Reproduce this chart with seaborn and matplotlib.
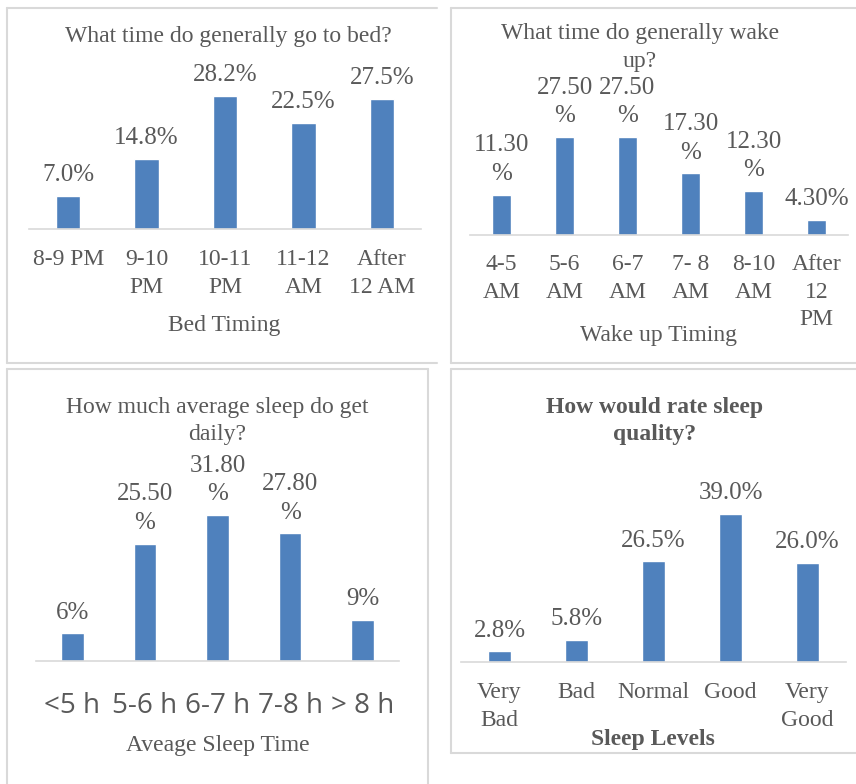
import matplotlib
matplotlib.use("Agg")
import matplotlib.pyplot as plt
import seaborn as sns
from matplotlib.lines import Line2D

# chart data
bed_cats = ["8-9 PM", "9-10 PM", "10-11 PM", "11-12 AM", "After 12 AM"]
bed_ticks = ["8-9 PM", "9-10\nPM", "10-11\nPM", "11-12\nAM", "After\n12 AM"]
bed_vals = [7.0, 14.8, 28.2, 22.5, 27.5]
bed_labels = ["7.0%", "14.8%", "28.2%", "22.5%", "27.5%"]

wake_cats = ["4-5 AM", "5-6 AM", "6-7 AM", "7- 8 AM", "8-10 AM", "After 12 PM"]
wake_ticks = ["4-5\nAM", "5-6\nAM", "6-7\nAM", "7- 8\nAM", "8-10\nAM", "After\n12\nPM"]
wake_vals = [11.3, 27.5, 27.5, 17.3, 12.3, 4.3]
wake_labels = ["11.30\n%", "27.50\n%", "27.50\n%", "17.30\n%", "12.30\n%", "4.30%"]

sleep_cats = ["<5 h", "5-6 h", "6-7 h", "7-8 h", "> 8 h"]
sleep_vals = [6.0, 25.5, 31.8, 27.8, 9.0]
sleep_labels = ["6%", "25.50\n%", "31.80\n%", "27.80\n%", "9%"]

qual_cats = ["Very Bad", "Bad", "Normal", "Good", "Very Good"]
qual_ticks = ["Very\nBad", "Bad", "Normal", "Good", "Very\nGood"]
qual_vals = [2.8, 5.8, 26.5, 39.0, 26.0]
qual_labels = ["2.8%", "5.8%", "26.5%", "39.0%", "26.0%"]

sns.set_theme(style="white")
plt.rcParams['font.family'] = ['Liberation Serif', 'DejaVu Serif']

W, H = 856, 784
TXT = "#595959"
BAR = "#4F81BD"
GRID = "#D9D9D9"
LS = 1.4

fig = plt.figure(figsize=(W / 100, H / 100), dpi=100)


def fx(x):
    return x / W


def fy(y):
    return 1 - y / H


def border(x0, y0, x1, y1, sides):
    # sides: which edges of the chart box are visible
    pts = {"top": ([x0, x1], [y0, y0]), "bottom": ([x0, x1], [y1, y1]),
           "left": ([x0, x0], [y0, y1]), "right": ([x1, x1], [y0, y1])}
    for s in sides:
        xs, ys = pts[s]
        fig.add_artist(Line2D([fx(v) for v in xs], [fy(v) for v in ys],
                              color=GRID, lw=1.5))


def panel(x0, x1, base, top, pxper, cats, vals, ticks, labels, pad,
          tickfont=None):
    ax = fig.add_axes([fx(x0), fy(base), (x1 - x0) / W, (base - top) / H])
    sns.barplot(x=cats, y=vals, color=BAR, saturation=1, width=0.31, ax=ax)
    ax.set_xlim(-0.5, len(cats) - 0.5)
    ax.set_ylim(0, (base - top) / pxper)
    ax.set_yticks([])
    ax.set_xticks(range(len(cats)))
    if tickfont is None:
        ax.set_xticklabels(ticks, fontsize=17, color=TXT, linespacing=LS)
    else:
        ax.set_xticklabels(ticks, fontsize=20, color=TXT, family=tickfont)
    ax.tick_params(axis="x", length=0, pad=pad)
    for s in ["top", "left", "right"]:
        ax.spines[s].set_visible(False)
    ax.spines["bottom"].set_color(GRID)
    ax.spines["bottom"].set_linewidth(1.2)
    ax.set_xlabel("")
    ax.set_ylabel("")
    ax.set_facecolor("none")
    ax.bar_label(ax.containers[0], labels=labels, padding=7, fontsize=18,
                 color=TXT, linespacing=LS)
    return ax


# box outlines
border(7, 7.5, 437, 363, ["top", "left", "bottom"])
border(451, 7.5, 860, 363, ["top", "left", "bottom"])
border(7, 369, 428, 790, ["top", "left", "right"])
border(451, 369, 860, 753, ["top", "left", "bottom"])

panel(29, 421, 229, 60, 4.72, bed_cats, bed_vals, bed_ticks, bed_labels, 14.5)
panel(470, 848, 235, 75, 3.56, wake_cats, wake_vals, wake_ticks, wake_labels, 14)
panel(36, 399, 661, 450, 4.59, sleep_cats, sleep_vals, sleep_cats, sleep_labels,
      22.5, tickfont="Open Sans")
panel(461, 846, 662, 450, 3.8, qual_cats, qual_vals, qual_ticks, qual_labels, 14.5)

# chart titles
fig.text(fx(228), fy(36.5), "What time do generally go to bed?", ha="center",
         va="center", fontsize=17, color=TXT)
fig.text(fx(640), fy(47.5), "What time do generally wake\nup?", ha="center",
         va="center", fontsize=17, color=TXT, linespacing=LS)
fig.text(fx(217), fy(421), "How much average sleep do get\ndaily?", ha="center",
         va="center", fontsize=17, color=TXT, linespacing=LS)
fig.text(fx(655), fy(421), "How would rate sleep\nquality?", ha="center",
         va="center", fontsize=17, color=TXT, fontweight="bold", linespacing=LS)

# axis titles
fig.text(fx(224), fy(325), "Bed Timing", ha="center", va="center",
         fontsize=17, color=TXT)
fig.text(fx(658), fy(335), "Wake up Timing", ha="center", va="center",
         fontsize=17, color=TXT)
fig.text(fx(218), fy(745), "Aveage Sleep Time", ha="center", va="center",
         fontsize=17, color=TXT)
fig.text(fx(653), fy(739), "Sleep Levels", ha="center", va="center",
         fontsize=17, color=TXT, fontweight="bold")

fig.savefig("out.png", dpi=100)
